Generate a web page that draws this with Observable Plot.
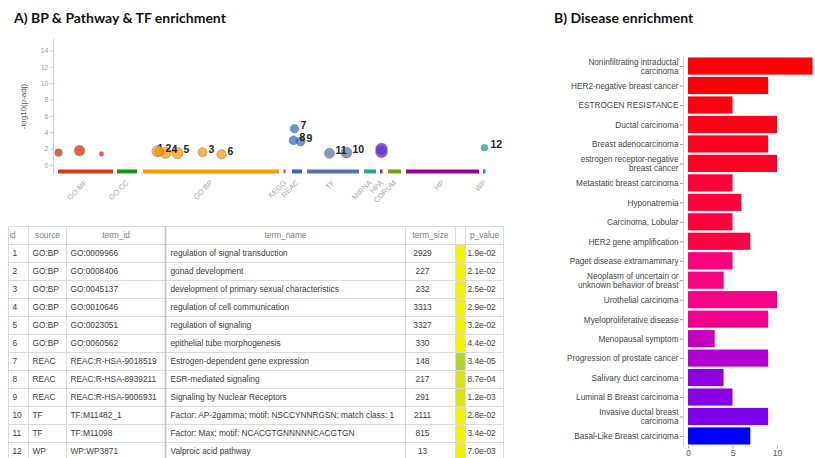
<!DOCTYPE html>
<html>
<head>
<meta charset="utf-8">
<script src="https://cdn.jsdelivr.net/npm/d3@7"></script>
<script src="https://cdn.jsdelivr.net/npm/@observablehq/plot@0.6"></script>
<style>
  body { margin: 0; background: #fff; }
  #fig { position: relative; width: 815px; height: 458px; overflow: hidden; background: #fff;
         font-family: "Liberation Sans", Arial, sans-serif; }
  .title { position: absolute; font-family: Lato, "Open Sans", sans-serif; font-weight: 700;
           font-size: 14px; color: #111; white-space: nowrap; }
  .panel { position: absolute; }
  .panel svg { overflow: visible; display: block; }
</style>
</head>
<body>
<div id="fig">
  <div class="title" style="left:14px; top:9px;">A) BP &amp; Pathway &amp; TF enrichment</div>
  <div class="title" style="left:554px; top:9px;">B) Disease enrichment</div>
  <div class="panel" id="manhattan" style="left:0; top:30px;"></div>
  <div class="panel" id="table" style="left:0; top:220px;"></div>
  <div class="panel" id="bars" style="left:540px; top:40px;"></div>
</div>
<script>
// ---- Manhattan plot: data sources along the term axis ----
const sources = ["GO:MF", "GO:CC", "GO:BP", "KEGG", "REAC", "TF", "MIRNA", "HPA", "CORUM", "HP", "WP"];
const sourceStart = [3, 62, 88, 228.5, 237, 252, 309, 325, 333, 351, 428];
const sourceEnd = [58, 82, 224, 230.5, 247, 304, 321, 327.5, 346, 424, 430.5];
const sourcePalette = ["#dc3912", "#109618", "#ff9900", "#dd4477", "#3366cc", "#5574a6",
                       "#22aa99", "#6633cc", "#66aa00", "#990099", "#0099c6"];

// significant terms without a highlight number
const otherSource = ["GO:MF", "GO:MF", "GO:MF", "HPA", "HPA"];
const otherPos = [3, 24, 46, 326, 326];
const otherLogP = [1.55, 1.8, 1.4, 1.65, 2.0];
const otherSize = [44, 1780, 1, 9000, 9000];

// highlighted terms (also listed in the table)
const termIds = [1, 2, 3, 4, 5, 6, 7, 8, 9, 10, 11, 12];
const termSource = ["GO:BP", "GO:BP", "GO:BP", "GO:BP", "GO:BP", "GO:BP", "REAC", "REAC", "REAC", "TF", "TF", "WP"];
const termCode = ["GO:0009966", "GO:0008406", "GO:0045137", "GO:0010646", "GO:0023051", "GO:0060562",
                  "REAC:R-HSA-9018519", "REAC:R-HSA-8939211", "REAC:R-HSA-9006931",
                  "TF:M11482_1", "TF:M11098", "WP:WP3871"];
const termName = ["regulation of signal transduction", "gonad development",
                  "development of primary sexual characteristics", "regulation of cell communication",
                  "regulation of signaling", "epithelial tube morphogenesis",
                  "Estrogen-dependent gene expression", "ESR-mediated signaling",
                  "Signaling by Nuclear Receptors",
                  "Factor: AP-2gamma; motif: NSCCYNNRGSN; match class: 1",
                  "Factor: Max; motif: NCACGTGNNNNNCACGTGN", "Valproic acid pathway"];
const termSize = [2929, 227, 232, 3313, 3327, 330, 148, 217, 291, 2111, 815, 13];
const termPValue = [1.9e-2, 2.1e-2, 2.5e-2, 2.9e-2, 3.2e-2, 4.4e-2, 3.4e-5, 8.7e-4, 1.2e-3, 2.8e-2, 3.4e-2, 7.0e-3];
const termPos = [102, 104, 147, 110, 122, 166, 239, 238, 245, 291, 274, 429];

// ---- Disease enrichment ----
const diseases = ["Noninfiltrating intraductal\ncarcinoma", "HER2-negative breast cancer", "ESTROGEN RESISTANCE",
                  "Ductal carcinoma", "Breast adenocarcinoma", "estrogen receptor-negative\nbreast cancer",
                  "Metastatic breast carcinoma", "Hyponatremia", "Carcinoma, Lobular", "HER2 gene amplification",
                  "Paget disease extramammary", "Neoplasm of uncertain or\nunknown behavior of breast",
                  "Urothelial carcinoma", "Myeloproliferative disease", "Menopausal symptom",
                  "Progression of prostate cancer", "Salivary duct carcinoma", "Luminal B Breast carcinoma",
                  "Invasive ductal breast\ncarcinoma", "Basal-Like Breast carcinoma"];
const diseaseCount = [14, 9, 5, 10, 9, 10, 5, 6, 5, 7, 5, 4, 10, 9, 3, 9, 4, 5, 9, 7];
const diseasePAdj = [1.0e-6, 1.7e-6, 2.4e-6, 2.8e-6, 3.8e-6, 4.9e-6, 7.3e-6, 7.7e-6, 8.0e-6, 8.7e-6,
                     1.72e-5, 1.8e-5, 1.83e-5, 1.95e-5, 2.6e-5, 2.85e-5, 3.12e-5, 3.16e-5, 3.22e-5, 3.6e-5];

// ---- tables built from the arrays ----
const segments = sources.map((s, i) => ({source: s, start: sourceStart[i], end: sourceEnd[i],
                                         center: (sourceStart[i] + sourceEnd[i]) / 2}));
const others = otherSource.map((s, i) => ({source: s, pos: otherPos[i], logp: otherLogP[i], size: otherSize[i]}));
const terms = termIds.map((id, i) => ({
  id, source: termSource[i], code: termCode[i], name: termName[i], size: termSize[i],
  p: termPValue[i], logp: -Math.log10(termPValue[i]), pos: termPos[i], row: i + 1
}));
const diseaseRows = diseases.map((d, i) => ({name: d, count: diseaseCount[i], padj: diseasePAdj[i]}));

const font = "'Liberation Sans', Arial, sans-serif";
const centerName = new Map(segments.map(d => [d.center, d.source]));
// label of term 1 sits under the dot cluster; the others are drawn on top
const hiddenLabel = terms.filter(d => d.id === 1);
const shownLabels = terms.filter(d => d.id !== 1);
const labelStyle = {x: "pos", y: "logp", text: d => String(d.id), dy: -3, textAnchor: "start",
                    fontSize: 10.5, fontWeight: "bold", fill: "#222"};

// ---- A) Manhattan plot ----
const manhattan = Plot.plot({
  width: 540, height: 190,
  marginLeft: 53, marginRight: 45, marginTop: 9, marginBottom: 47,
  style: {fontFamily: font, background: "transparent"},
  x: {domain: [-2, 440]},
  y: {domain: [-1, 15.4]},
  r: {type: "log", domain: [10, 10000], range: [3.2, 6]},
  color: {domain: sources, range: sourcePalette},
  marks: [
    Plot.frame({anchor: "left", stroke: "#cfcfcf"}),
    Plot.axisY({ticks: d3.range(0, 15, 2), tickSize: 3, tickPadding: 2, fontSize: 7,
                fill: "#9a9a9a", stroke: "#c8c8c8", label: null}),
    Plot.axisY({ticks: [], label: "-log10(p-adj)", labelAnchor: "center", labelArrow: "none",
                labelOffset: 33, fontSize: 8, fill: "#555"}),
    Plot.axisX({ticks: segments.map(d => d.center), tickFormat: d => centerName.get(d),
                tickRotate: -45, tickSize: 0, tickPadding: 8, fontSize: 7.5, fill: "#a8a8a8", label: null}),
    Plot.ruleY(segments, {x1: "start", x2: "end", y: -0.75, stroke: "source", strokeWidth: 4}),
    Plot.text(hiddenLabel, {...labelStyle, dx: 0}),
    Plot.dot(others, {x: "pos", y: "logp", r: "size", fill: "source", fillOpacity: 0.8,
                      stroke: "#7a7a7a", strokeOpacity: 0.5, strokeWidth: 0.7}),
    Plot.dot(terms, {x: "pos", y: "logp", r: "size", fill: "source", fillOpacity: 0.72,
                     stroke: "#6a6a6a", strokeOpacity: 0.6, strokeWidth: 0.8}),
    Plot.text(shownLabels, {...labelStyle, dx: 6})
  ]
});
document.getElementById("manhattan").append(manhattan);

// ---- A) term table ----
const colEdges = [8, 28, 66, 165, 405, 455, 465, 503];
const headers = [
  {label: "id", x: 12, anchor: "start"},
  {label: "source", x: 47, anchor: "middle"},
  {label: "term_id", x: 115.5, anchor: "middle"},
  {label: "term_name", x: 285, anchor: "middle"},
  {label: "term_size", x: 430, anchor: "middle"},
  {label: "p_value", x: 484, anchor: "middle"}
];
const cellText = {fontSize: 8.3, fill: "#3a3a3a"};
const table = Plot.plot({
  width: 510, height: 238, margin: 0,
  style: {fontFamily: font, background: "transparent"},
  x: {domain: [0, 510], range: [0, 510], axis: null},
  y: {domain: [0, 13], range: [6, 240], axis: null},
  color: {type: "linear", domain: [2, 4.5], range: ["#f6f200", "#b2d42a"], clamp: true},
  marks: [
    Plot.rect(terms, {x1: 455, x2: 465, y1: "row", y2: d => d.row + 1, fill: "logp"}),
    Plot.ruleY(d3.range(0, 14), {x1: 8, x2: 503, stroke: "#dadada"}),
    Plot.ruleX(colEdges, {y1: 0, y2: 13, stroke: d => d === 165 ? "#c4c4c4" : "#dadada",
                          strokeWidth: d => d === 165 ? 1.6 : 1}),
    Plot.text(headers, {x: "x", y: 0.5, text: "label", textAnchor: "anchor", fontSize: 8.3, fill: "#7a7a7a"}),
    Plot.text(terms, {x: 12, y: d => d.row + 0.5, text: d => String(d.id), textAnchor: "start", ...cellText}),
    Plot.text(terms, {x: 32, y: d => d.row + 0.5, text: "source", textAnchor: "start", ...cellText}),
    Plot.text(terms, {x: 70, y: d => d.row + 0.5, text: "code", textAnchor: "start", ...cellText}),
    Plot.text(terms, {x: 170, y: d => d.row + 0.5, text: "name", textAnchor: "start", ...cellText}),
    Plot.text(terms, {x: 422, y: d => d.row + 0.5, text: d => String(d.size), textAnchor: "middle", ...cellText}),
    Plot.text(terms, {x: 467, y: d => d.row + 0.5, text: d => d.p.toExponential(1).replace(/e([+-])(\d)$/, "e$10$2"),
                      textAnchor: "start", ...cellText})
  ]
});
document.getElementById("table").append(table);

// ---- B) Disease enrichment bars ----
const bars = Plot.plot({
  width: 275, height: 418,
  marginLeft: 143, marginRight: 0, marginTop: 16.3, marginBottom: 12.3,
  style: {fontFamily: font, background: "transparent"},
  x: {domain: [-0.56, 14.27]},
  y: {domain: diseases, paddingInner: 0.12, paddingOuter: 0.06, round: false},
  color: {type: "linear", domain: d3.extent(diseasePAdj), range: ["red", "blue"], interpolate: "hcl"},
  marks: [
    Plot.frame({anchor: "left", stroke: "#d4d4d4"}),
    Plot.barX(diseaseRows, {x1: 0, x2: "count", y: "name", fill: "padj"}),
    Plot.axisX({ticks: [0, 5, 10], tickSize: 3, tickPadding: 1, fontSize: 8.5, fill: "#555",
                stroke: "#aaa", label: null}),
    Plot.axisY({tickSize: 3, tickPadding: 2, fontSize: 8.2, fill: "#444", stroke: "#999",
                lineHeight: 1.1, label: null})
  ]
});
document.getElementById("bars").append(bars);
</script>
</body>
</html>
